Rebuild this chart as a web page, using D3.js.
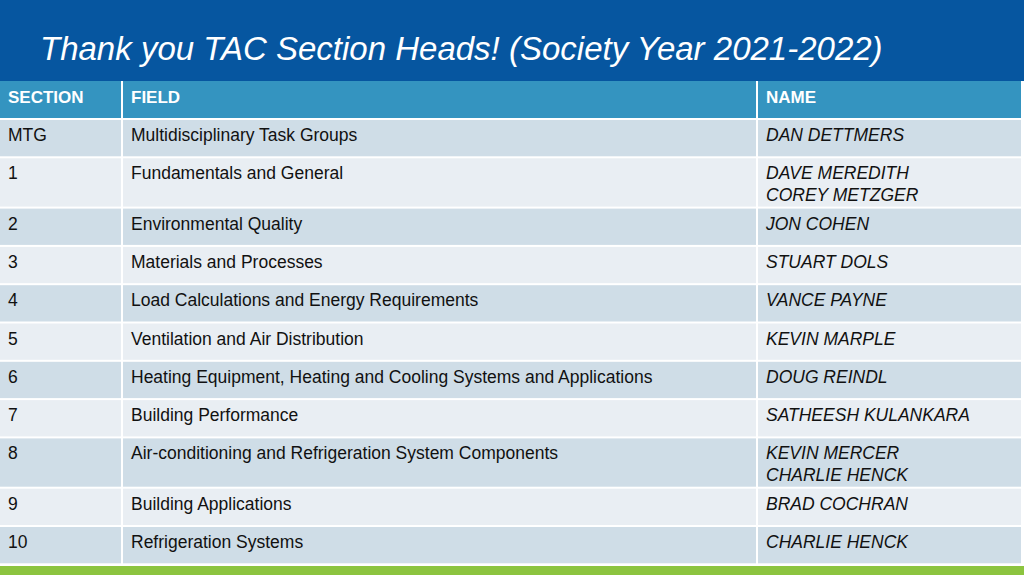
<!DOCTYPE html>
<html><head><meta charset="utf-8">
<script src="https://cdn.jsdelivr.net/npm/d3@7"></script>
<style>body{margin:0;overflow:hidden;background:#fff}svg{display:block;font-family:"Liberation Sans",Arial,sans-serif}</style>
</head><body><svg id="c" width="1024" height="575"></svg>
<script>
const title = 'Thank you TAC Section Heads! (Society Year 2021-2022)';
const columns = ['SECTION', 'FIELD', 'NAME'];
const sections = ['MTG', '1', '2', '3', '4', '5', '6', '7', '8', '9', '10'];
const fields = ['Multidisciplinary Task Groups', 'Fundamentals and General', 'Environmental Quality',
  'Materials and Processes', 'Load Calculations and Energy Requirements', 'Ventilation and Air Distribution',
  'Heating Equipment, Heating and Cooling Systems and Applications', 'Building Performance',
  'Air-conditioning and Refrigeration System Components', 'Building Applications', 'Refrigeration Systems'];
const names = [['DAN DETTMERS'], ['DAVE MEREDITH', 'COREY METZGER'], ['JON COHEN'], ['STUART DOLS'],
  ['VANCE PAYNE'], ['KEVIN MARPLE'], ['DOUG REINDL'], ['SATHEESH KULANKARA'],
  ['KEVIN MERCER', 'CHARLIE HENCK'], ['BRAD COCHRAN'], ['CHARLIE HENCK']];

const svg = d3.select('#c');
const W = 1024, H = 575;

// title band
svg.append('rect').attr('width', W).attr('height', 81).attr('fill', '#0656a0');
svg.append('text').attr('x', 40).attr('y', 60).attr('fill', '#fff')
  .style('font-size', '33px').style('font-style', 'italic').text(title);

// columns
const colEdges = [0, 123, 758, 1023];
const x = d3.scaleOrdinal().domain(columns).range(colEdges.slice(0, 3));
const colW = c => colEdges[columns.indexOf(c) + 1] - x(c) - 2;

// rows: height grows with line count
const baseH = 38.3, extraH = 12;
const rows = sections.map((s, i) => ({section: s, field: fields[i], names: names[i]}));
let y0 = 120;
rows.forEach(r => { r.h = baseH + (r.names.length - 1) * extraH; r.y = y0; y0 += r.h; });

// header row
const head = svg.append('g');
columns.forEach(c => {
  head.append('rect').attr('x', x(c)).attr('y', 81).attr('width', colW(c)).attr('height', 37).attr('fill', '#3494c0');
  head.append('text').attr('x', x(c) + 8).attr('y', 103).attr('fill', '#fff')
    .style('font-size', '17px').style('font-weight', 'bold').text(c);
});

const g = svg.selectAll('g.row').data(rows).enter().append('g').attr('class', 'row')
  .attr('transform', d => `translate(0,${d.y})`);
columns.forEach(c => {
  g.append('rect').attr('x', x(c)).attr('y', 0).attr('width', colW(c)).attr('height', d => d.h - 2)
    .attr('fill', (d, i) => i % 2 ? '#e9eef3' : '#cfdde7');
});
const fs = '17.5px';
g.append('text').attr('x', x('SECTION') + 8).attr('y', 21).style('font-size', fs).attr('fill', '#111').text(d => d.section);
g.append('text').attr('x', x('FIELD') + 8).attr('y', 21).style('font-size', fs).attr('fill', '#111').text(d => d.field);
g.append('text').attr('x', x('NAME') + 8).attr('y', 21).style('font-size', fs).style('font-style', 'italic').attr('fill', '#111')
  .selectAll('tspan').data(d => d.names).enter().append('tspan')
  .attr('x', x('NAME') + 8).attr('dy', (d, i) => i ? 21.5 : 0).text(d => d);

// bottom green band
svg.append('rect').attr('x', 0).attr('y', 566).attr('width', W).attr('height', H - 566).attr('fill', '#8cc43f');
</script></body></html>
